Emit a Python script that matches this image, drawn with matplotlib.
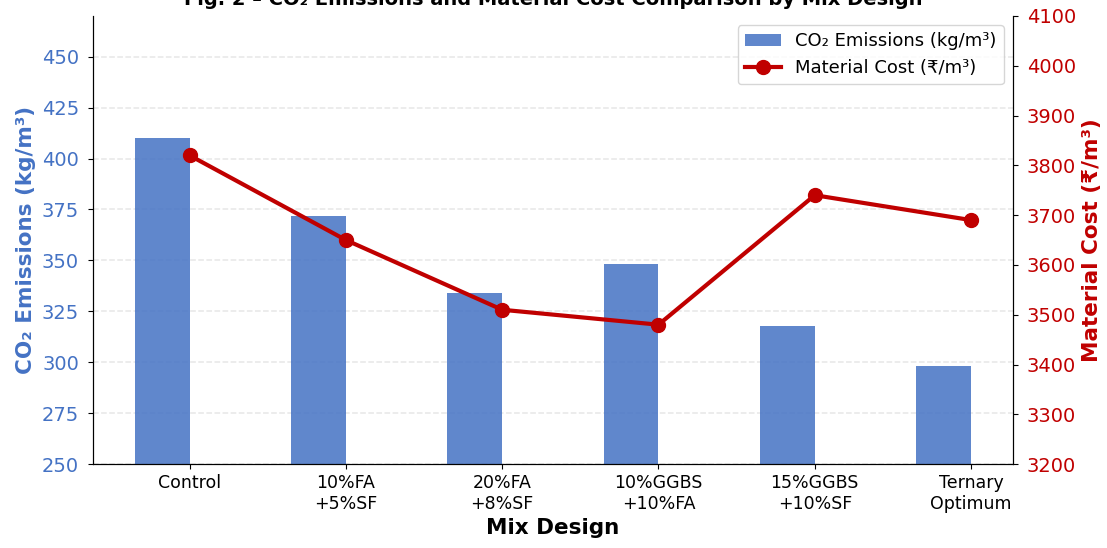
import numpy as np
import matplotlib.pyplot as plt

mixes = ["Control", "10%FA\n+5%SF", "20%FA\n+8%SF", "10%GGBS\n+10%FA", "15%GGBS\n+10%SF", "Ternary\nOptimum"]
co2 = [410, 372, 334, 348, 318, 298]
cost = [3820, 3650, 3510, 3480, 3740, 3690]

blue = "#4472C4"
red = "#C00000"

fig = plt.figure(figsize=(11.07, 5.48), dpi=100)
ax1 = fig.add_axes([0.084, 0.153, 0.831, 0.818])
x = np.arange(len(mixes))
width = 0.35

ax1.bar(x - width / 2, co2, width, color=blue, alpha=0.85, label="CO₂ Emissions (kg/m³)")
ax1.set_ylim(250, 470)
ax1.set_xlabel("Mix Design", fontsize=15.5, fontweight="bold")
ax1.set_ylabel("CO₂ Emissions (kg/m³)", fontsize=15.5, fontweight="bold", color=blue)
ax1.tick_params(axis="y", labelcolor=blue, labelsize=14, pad=6.5)
ax1.tick_params(axis="x", labelsize=12.5)
ax1.set_xticks(x)
ax1.set_xticklabels(mixes)
ax1.grid(axis="y", linestyle="--", linewidth=1.1, alpha=0.3)
ax1.set_axisbelow(True)
ax1.spines["top"].set_visible(False)

ax2 = ax1.twinx()
ax2.plot(x, cost, color=red, linewidth=3, marker="o", markersize=10, label="Material Cost (₹/m³)")
ax2.set_ylim(3200, 4100)
ax2.set_ylabel("Material Cost (₹/m³)", fontsize=15.5, fontweight="bold", color=red)
ax2.tick_params(axis="y", labelcolor=red, labelsize=14, pad=6.5)
ax2.spines["top"].set_visible(False)

h1, l1 = ax1.get_legend_handles_labels()
h2, l2 = ax2.get_legend_handles_labels()
ax2.legend(h1 + h2, l1 + l2, loc="upper right", fontsize=13)

ax1.set_title("Fig. 2 – CO₂ Emissions and Material Cost Comparison by Mix Design",
              fontsize=14, fontweight="bold", pad=8)

fig.savefig("out.png", dpi=100)
